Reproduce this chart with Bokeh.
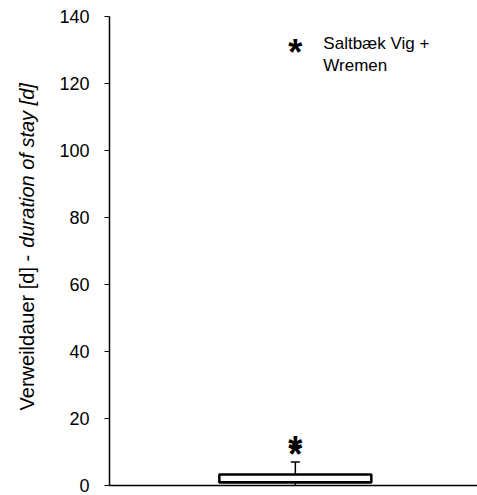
import math
from bokeh.plotting import figure
from bokeh.layouts import row
from bokeh.models import Range1d, FixedTicker
from bokeh.core.properties import value
from bokeh.embed import file_html
from bokeh.resources import INLINE

# ---- data ----
group_x = [1.0]
q1 = [1.0]
median = [1.0]
q3 = [3.3]
whisker_low = [0.0]
whisker_high = [7.0]
outlier_x = [1.0, 1.0, 1.0]
outlier_y = [11.0, 12.5, 131.0]
annot_lines = ["Saltbæk Vig +", "Wremen"]
annot_x = [1.0, 1.0]
annot_y = [131.0, 131.0]
y_ticks = [0, 20, 40, 60, 80, 100, 120, 140]
y_title_parts = ["Verweildauer [d] - ", "duration of stay [d]"]
y_title_styles = ["normal", "italic"]
y_title_start = [22.4, 71.0]   # y position (data units) where each part begins

FONT = "Liberation Sans"
TOP, BOTTOM = 16, 10
TITLE_W = 40

# ---- title strip (rotated axis title, mixed styles) ----
t = figure(width=TITLE_W, height=495, output_backend="svg", toolbar_location=None,
           x_range=Range1d(0, TITLE_W), y_range=Range1d(0, 140),
           min_border_left=0, min_border_right=0, min_border_top=TOP,
           min_border_bottom=BOTTOM)
t.axis.visible = False
t.grid.visible = False
t.outline_line_color = None
for part, style, ys in zip(y_title_parts, y_title_styles, y_title_start):
    t.text(x=[26], y=[ys], text=[part], angle=math.pi / 2, text_font=value(FONT),
           text_font_size="20px", text_font_style=style, text_align="left",
           text_baseline="alphabetic", text_color="black")

# ---- main plot ----
p = figure(width=477 - TITLE_W, height=495, output_backend="svg", toolbar_location=None,
           x_range=Range1d(-0.01, 1.99), y_range=Range1d(0, 140),
           min_border_left=109 - TITLE_W, min_border_right=0, min_border_top=TOP,
           min_border_bottom=BOTTOM)
p.outline_line_color = None
p.grid.visible = False
p.background_fill_color = "white"

# y axis
p.yaxis.ticker = FixedTicker(ticks=y_ticks)
p.yaxis.minor_tick_line_color = None
p.yaxis.major_tick_in = 0
p.yaxis.major_tick_out = 5
p.yaxis.axis_line_color = "black"
p.yaxis.axis_line_width = 1.5
p.yaxis.major_tick_line_color = "black"
p.yaxis.major_label_text_font = FONT
p.yaxis.major_label_text_font_size = "18px"
p.yaxis.major_label_text_color = "black"
p.yaxis.major_label_standoff = 15

# x axis: line only
p.xaxis.ticker = FixedTicker(ticks=[])
p.xaxis.minor_tick_line_color = None
p.xaxis.major_tick_line_color = None
p.xaxis.axis_line_color = "black"
p.xaxis.axis_line_width = 1.5
p.xaxis.major_label_text_font_size = "0px"

box_w = 0.826
cap_w = 0.045

# whiskers
p.segment(x0=group_x, y0=q3, x1=group_x, y1=whisker_high, line_color="black", line_width=1.5)
p.segment(x0=group_x, y0=whisker_low, x1=group_x, y1=q1, line_color="black", line_width=1.5)
p.rect(x=group_x, y=whisker_high, width=cap_w, height=0.001, line_color="black", line_width=1.5,
       fill_color=None)

# box
p.vbar(x=group_x, width=box_w, bottom=q1, top=q3, fill_color="white",
       line_color="black", line_width=2.5)
p.rect(x=group_x, y=median, width=box_w, height=0.001, line_color="black", line_width=2.5,
       fill_color=None)

# outliers as asterisks
p.text(x=outlier_x, y=outlier_y, text=["*"] * len(outlier_y), text_font=value(FONT),
       text_font_style="bold", text_font_size="36px", text_align="center",
       text_baseline="alphabetic", y_offset=6, text_color="black")

# annotation
p.text(x=annot_x, y=annot_y, text=annot_lines, text_font=value(FONT),
       text_font_size="17px", text_align="left", text_baseline="alphabetic",
       x_offset=28, y_offset=[-3, 19], text_color="black")

layout = row(t, p, spacing=0)
open("out.html", "w").write(file_html(layout, INLINE))
